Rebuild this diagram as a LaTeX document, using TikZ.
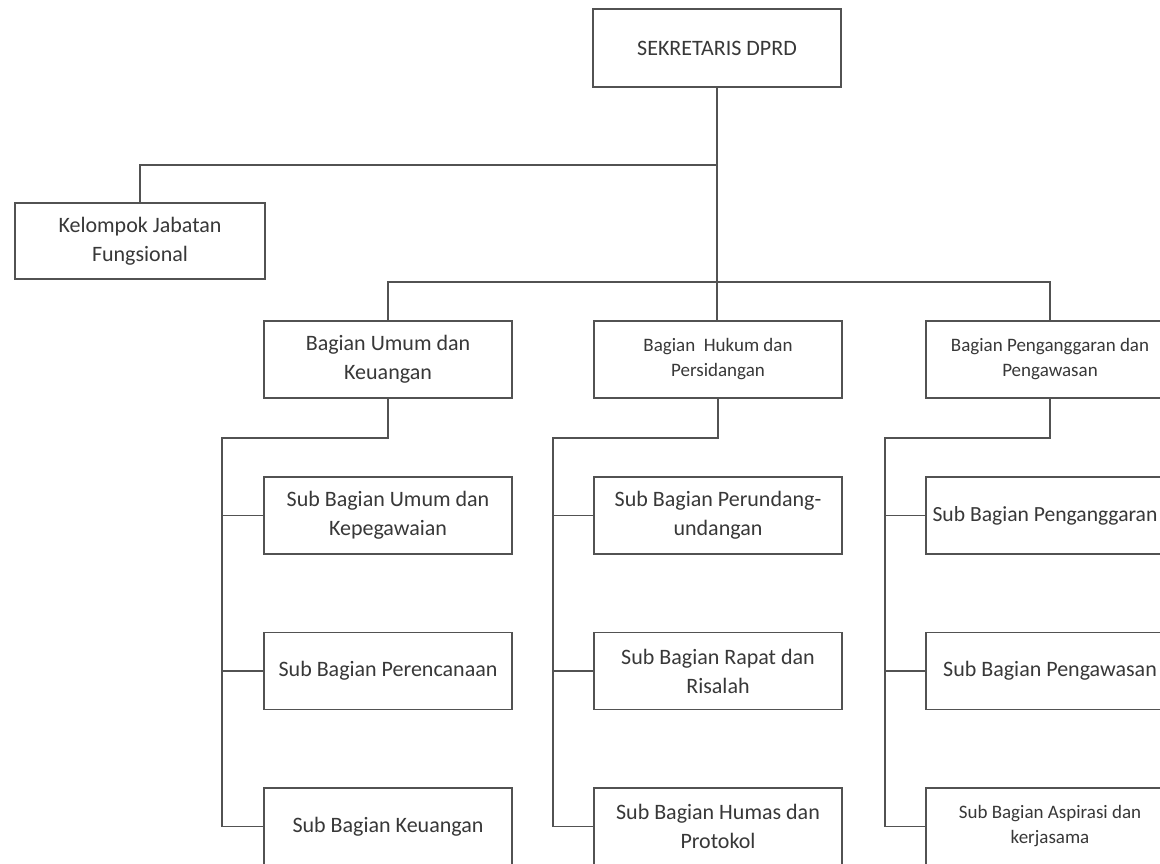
\documentclass[tikz,border=0pt]{standalone}
\usepackage{fontspec}
\setmainfont{Carlito}
\begin{document}
\begin{tikzpicture}[x=1pt,y=-1pt,
  box/.style={draw=black!68, line width=1.6pt, rectangle, minimum width=248pt, minimum height=77pt,
    inner sep=0pt, align=center, text=black!78, font=\fontsize{22}{29}\selectfont},
  smallbox/.style={box, font=\fontsize{19}{25}\selectfont},
  conn/.style={draw=black!68, line width=1.6pt}]
\useasboundingbox (0,0) rectangle (1160,864);
\clip (0,0) rectangle (1160,864);
\fill[white] (0,0) rectangle (1160,864);
% nodes
\node[box, minimum height=78pt] (top) at (717,48) {SEKRETARIS DPRD};
\node[box, minimum width=250pt, minimum height=76pt] (kel) at (140,241) {Kelompok Jabatan\\Fungsional};
\node[box] (umum) at (388,359.5) {Bagian Umum dan\\Keuangan};
\node[smallbox] (hukum) at (718,359.5) {Bagian\ \ Hukum dan\\Persidangan};
\node[smallbox] (angg) at (1050,359.5) {Bagian Penganggaran dan\\Pengawasan};
% sub boxes column 1
\node[box] (s11) at (388,515.5) {Sub Bagian Umum dan\\Kepegawaian};
\node[box] (s12) at (388,671) {Sub Bagian Perencanaan};
\node[box] (s13) at (388,826.5) {Sub Bagian Keuangan};
% column 2
\node[box] (s21) at (718,515.5) {Sub Bagian Perundang-\\undangan};
\node[box] (s22) at (718,671) {Sub Bagian Rapat dan\\Risalah};
\node[box] (s23) at (718,826.5) {Sub Bagian Humas dan\\Protokol};
% column 3
\node[box, font=\fontsize{21.6}{29}\selectfont] (s31) at (1050,515.5) {\kern-10pt Sub Bagian Penganggaran};
\node[box] (s32) at (1050,671) {Sub Bagian Pengawasan};
\node[smallbox] (s33) at (1050,826.5) {Sub Bagian Aspirasi dan\\kerjasama};
% coordinates
\coordinate (kj) at (717,165);
\coordinate (hb) at (717,282);
\coordinate (c1) at (222,438);
\coordinate (c2) at (553,438);
\coordinate (c3) at (885,438);
% connectors
\draw[conn] (top.south) -- (top.south |- hukum.north);
\draw[conn] (kj) -| (kel.north);
\draw[conn] (umum.north) |- (hb) -| (angg.north);
\draw[conn] (umum.south) |- (c1) |- (s13.west);
\draw[conn] (c1 |- s11.west) -- (s11.west);
\draw[conn] (c1 |- s12.west) -- (s12.west);
\draw[conn] (hukum.south) |- (c2) |- (s23.west);
\draw[conn] (c2 |- s21.west) -- (s21.west);
\draw[conn] (c2 |- s22.west) -- (s22.west);
\draw[conn] (angg.south) |- (c3) |- (s33.west);
\draw[conn] (c3 |- s31.west) -- (s31.west);
\draw[conn] (c3 |- s32.west) -- (s32.west);
\end{tikzpicture}
\end{document}
